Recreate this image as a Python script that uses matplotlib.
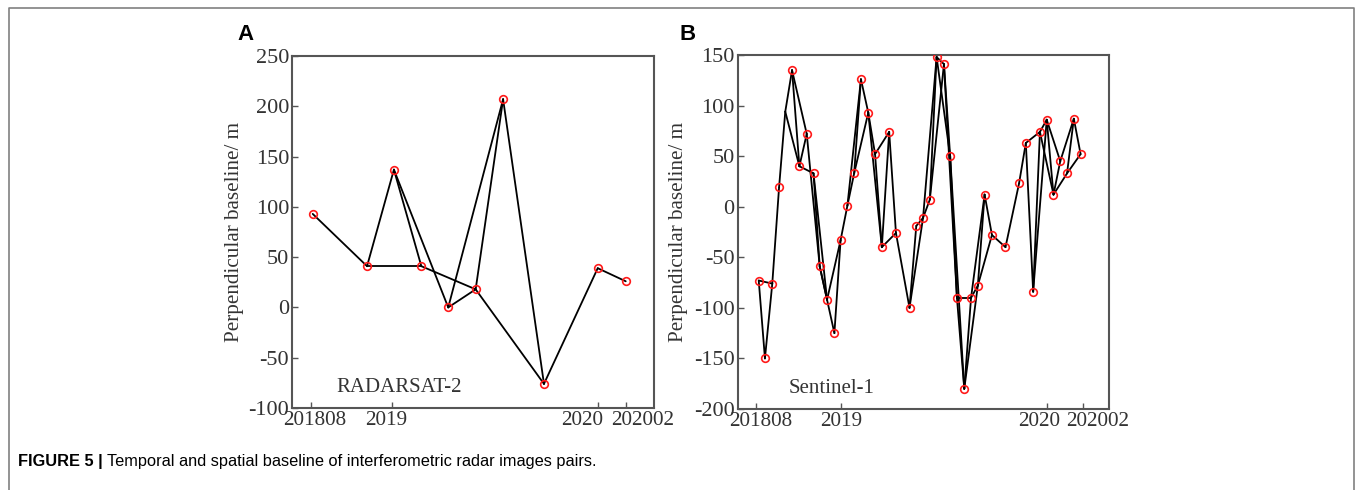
import matplotlib
matplotlib.use('Agg')
import matplotlib.pyplot as plt
from matplotlib.lines import Line2D
from matplotlib.transforms import ScaledTranslation

# RADARSAT-2: acquisition time (days from 2018-08) and perpendicular baseline (m)
a_days = [3, 100, 148, 197, 245, 294, 343, 416, 512, 562]
a_vals = [93, 41, 137, 41, 0, 18, 207, -76, 39, 26]
a_pairs = [(0, 1), (1, 2), (1, 3), (2, 3), (2, 4), (3, 5), (4, 5), (4, 6),
           (5, 6), (6, 7), (5, 7), (7, 8), (8, 9)]
a_ticks = [0, 145, 512, 562]
a_label_shift = [4, -6, -16, 17]   # px, labels sit off their ticks in the original

# Sentinel-1 (index 4 is a vertex drawn without a marker)
b_days = [5, 16, 29, 41, 52, 64, 77, 90, 102, 113, 126, 139, 150, 162, 174,
          186, 199, 211, 223, 236, 248, 272, 284, 296, 308, 320, 333, 344,
          356, 369, 381, 393, 405, 418, 442, 466, 478, 491, 503, 515, 527,
          539, 551, 563, 575]
b_vals = [-73, -150, -76, 19, 94, 135, 40, 72, 33, -59, -92, -125, -33, 1, 33,
          126, 93, 52, -40, 74, -26, -100, -19, -11, 7, 148, 141, 50, -90,
          -180, -90, -78, 12, -28, -40, 23, 63, -84, 74, 86, 12, 45, 33, 87, 52]
b_hidden = [4]
b_pairs = [(0, 1), (0, 2), (1, 2), (2, 3), (3, 4), (4, 5), (4, 6), (5, 6),
           (5, 7), (6, 7), (6, 8), (7, 9), (8, 9), (8, 10), (9, 10), (9, 11),
           (10, 12), (11, 12), (12, 13), (13, 14), (13, 15), (14, 15),
           (14, 16), (15, 16), (16, 17), (16, 18), (17, 18), (17, 19),
           (18, 19), (18, 20), (19, 20), (20, 21), (21, 22), (21, 23),
           (22, 23), (23, 24), (23, 25), (24, 25), (24, 26), (25, 26),
           (25, 27), (26, 27), (26, 28), (27, 28), (27, 29), (28, 29),
           (28, 30), (29, 30), (29, 31), (30, 31), (30, 32), (31, 32),
           (31, 33), (32, 33), (33, 34), (34, 35), (35, 36), (36, 37),
           (36, 38), (37, 38), (37, 39), (38, 39), (38, 40), (39, 40),
           (39, 41), (40, 41), (40, 42), (41, 43), (42, 43), (42, 44),
           (43, 44)]
b_ticks = [0, 151, 516, 580]
b_label_shift = [5, 0, -8, 14]

tick_labels = ['201808', '2019', '2020', '202002']

serif = ['Liberation Serif', 'DejaVu Serif']
sans = ['Liberation Sans', 'DejaVu Sans']

fig = plt.figure(figsize=(13.57, 4.90), dpi=100)
fig.patch.set_facecolor('white')


def draw_panel(ax, days, vals, pairs, ticks, shifts, ylim, xlim, yticks, name,
               name_x, hidden=()):
    for i, j in pairs:
        ax.plot([days[i], days[j]], [vals[i], vals[j]], color='black', lw=1.3,
                solid_capstyle='round', zorder=2)
    keep = [k for k in range(len(days)) if k not in hidden]
    ax.plot([days[k] for k in keep], [vals[k] for k in keep], linestyle='none',
            marker='o', markersize=5.5, markerfacecolor='none',
            markeredgecolor='#ff1a1a', markeredgewidth=1.2, zorder=3)
    ax.set_xlim(*xlim)
    ax.set_ylim(*ylim)
    ax.set_xticks(ticks)
    ax.set_xticklabels(tick_labels)
    ax.set_yticks(yticks)
    ax.set_yticklabels([str(v) for v in yticks])
    ax.tick_params(direction='in', length=4, width=1.0, color='#555555', pad=2)
    for lab in ax.get_yticklabels():
        lab.set_family(serif)
        lab.set_fontsize(16)
        lab.set_color('#333333')
    for lab, dx in zip(ax.get_xticklabels(), shifts):
        lab.set_family(serif)
        lab.set_fontsize(15.2)
        lab.set_color('#333333')
        lab.set_transform(lab.get_transform() +
                          ScaledTranslation(dx / 100, 0, fig.dpi_scale_trans))
    for sp in ax.spines.values():
        sp.set_color('#555555')
        sp.set_linewidth(1.5)
    ax.set_ylabel('Perpendicular baseline/ m', family=serif, fontsize=15.2,
                  color='#333333')
    ax.yaxis.set_label_coords(-0.133, 0.5)
    ax.text(name_x, 0.057, name, transform=ax.transAxes, ha='center',
            va='center', family=serif, fontsize=15, color='#333333')


W, H = 1357, 490
ax_a = fig.add_axes([292 / W, (H - 408) / H, 362 / W, 352 / H])
draw_panel(ax_a, a_days, a_vals, a_pairs, a_ticks, a_label_shift, (-100, 250),
           (-34, 612.5), list(range(-100, 251, 50)), 'RADARSAT-2', 0.296)

ax_b = fig.add_axes([737.5 / W, (H - 409) / H, 371.5 / W, 354 / H])
draw_panel(ax_b, b_days, b_vals, b_pairs, b_ticks, b_label_shift, (-200, 150),
           (-32.6, 625.3), list(range(-200, 151, 50)), 'Sentinel-1', 0.254,
           hidden=b_hidden)

fig.text(245 / W, 1 - 35 / H, 'A', family=sans, fontsize=16, fontweight='bold',
         ha='center', va='center')
fig.text(688 / W, 1 - 35 / H, 'B', family=sans, fontsize=16, fontweight='bold',
         ha='center', va='center')

# outer frame
fig.add_artist(Line2D([9 / W, 9 / W, 1354 / W, 1354 / W], [0, 1 - 8 / H, 1 - 8 / H, 0],
                      transform=fig.transFigure, color='#808080', lw=1.2))

# caption
t = fig.text(18 / W, 1 - 461 / H, 'FIGURE 5 |', family=sans, fontsize=11.8,
             fontweight='bold', ha='left', va='center')
fig.canvas.draw()
bb = t.get_window_extent()
fig.text((bb.x1 + 4) / W, 1 - 461 / H,
         'Temporal and spatial baseline of interferometric radar images pairs.',
         family=sans, fontsize=11.8, ha='left', va='center')

fig.savefig('out.png', dpi=100)
